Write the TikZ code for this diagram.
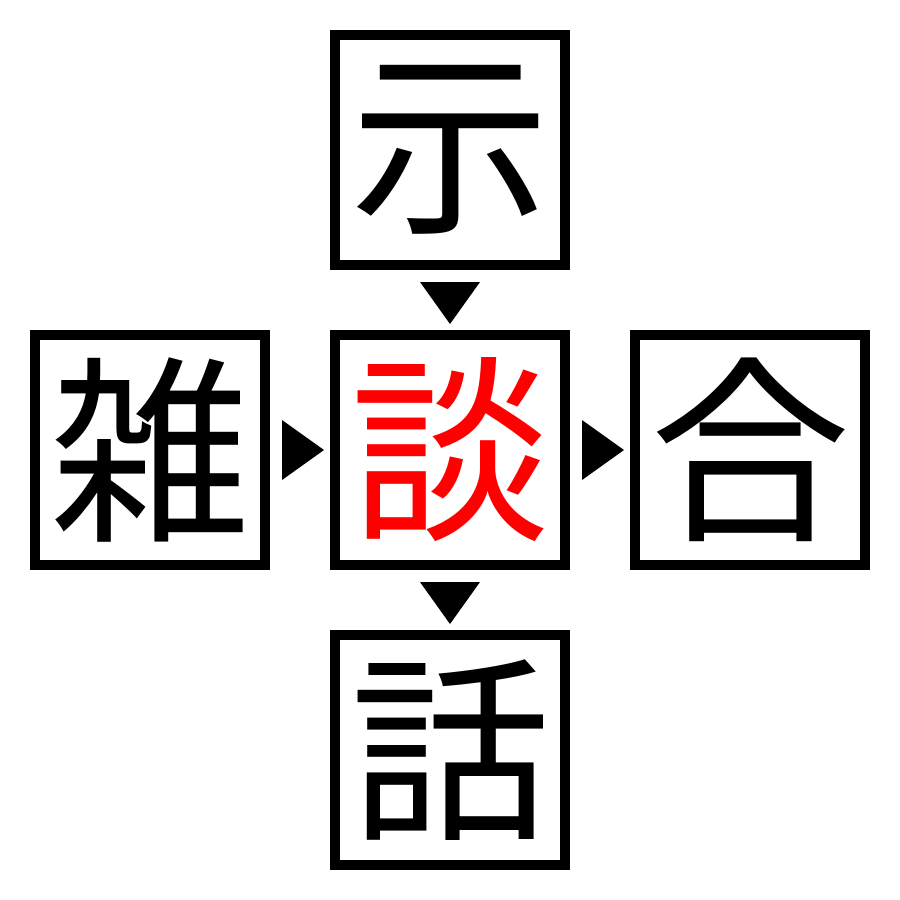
\documentclass[tikz,border=0pt]{standalone}
\usepackage{fontspec}
\usetikzlibrary{calc}
\newfontfamily\cjk{Noto Sans CJK JP}
\begin{document}
\begin{tikzpicture}[x=1pt,y=-1pt,
  kbox/.style={draw=black,line width=10pt,minimum width=230pt,minimum height=230pt,inner sep=0pt,
    font=\cjk\fontsize{200}{210}\selectfont},
  tri/.style={fill=black,draw=none}]
\useasboundingbox (0,0) rectangle (900,900);
\fill[white] (0,0) rectangle (900,900);
\node[kbox] (top) at (450,150) {\raisebox{-4pt}{示}};
\node[kbox] (left) at (150,450) {\raisebox{-4pt}{雑}};
\node[kbox,text=red] (mid) at (450,450) {\raisebox{-4pt}{談}};
\node[kbox] (right) at (750,450) {\raisebox{-4pt}{合}};
\node[kbox] (bot) at (450,750) {\raisebox{-4pt}{話}};
\fill[tri] ($(top.south)+(-30,12)$) -- ($(top.south)+(30,12)$) -- ($(mid.north)+(0,-6)$) -- cycle;
\fill[tri] ($(left.east)+(12,-30)$) -- ($(left.east)+(12,30)$) -- ($(mid.west)+(-6,0)$) -- cycle;
\fill[tri] ($(mid.east)+(12,-30)$) -- ($(mid.east)+(12,30)$) -- ($(right.west)+(-6,0)$) -- cycle;
\fill[tri] ($(mid.south)+(-30,12)$) -- ($(mid.south)+(30,12)$) -- ($(bot.north)+(0,-6)$) -- cycle;
\end{tikzpicture}
\end{document}
